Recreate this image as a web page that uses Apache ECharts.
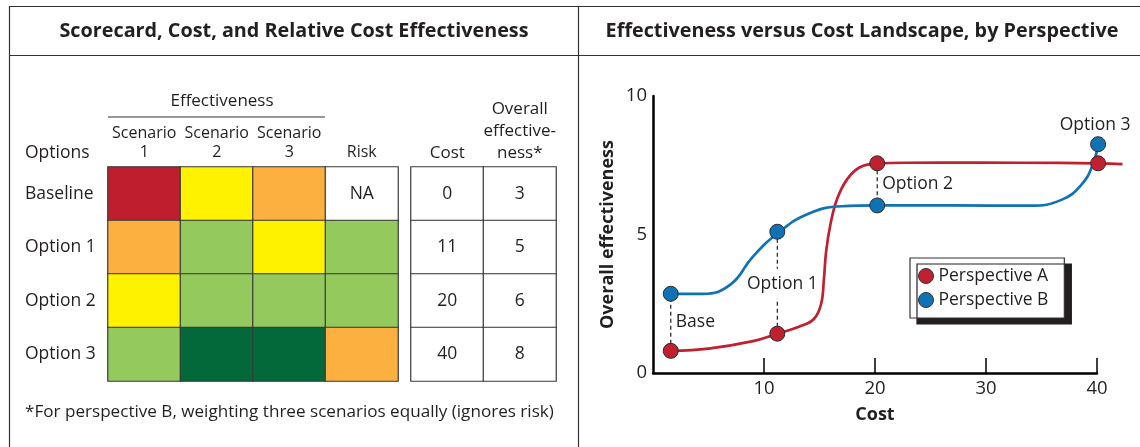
<!DOCTYPE html>
<html>
<head>
<meta charset="utf-8">
<script src="https://cdn.jsdelivr.net/npm/echarts@6/dist/echarts.min.js"></script>
<style>
  html, body { margin: 0; padding: 0; background: #fff; }
  #chart { width: 1140px; height: 447px; }
</style>
</head>
<body>
<div id="chart"></div>
<script>
// ---- left panel: scorecard ----
const optionNames = ["Baseline", "Option 1", "Option 2", "Option 3"];
const scorecardColumns = ["Scenario\n1", "Scenario\n2", "Scenario\n3", "Risk"];
// ratings: 1 red, 2 orange, 3 yellow, 4 light green, 5 dark green, null = NA
const scenario1 = [1, 2, 3, 4];
const scenario2 = [3, 4, 4, 5];
const scenario3 = [2, 3, 4, 5];
const risk = [null, 4, 4, 2];
const costColumns = ["Cost", "Overall\neffective-\nness*"];
const cost = [0, 11, 20, 40];
const overallEffectiveness = [3, 5, 6, 8];

// ---- right panel: landscape ----
const pointNames = ["Base", "Option 1", "Option 2", "Option 3"];
const pointCost = [1.6, 11.2, 20.2, 40.1];
const pointA = [0.8, 1.42, 7.57, 7.57];
const pointB = [2.86, 5.1, 6.05, 8.26];
const curveACost = [1.6, 5, 9, 11.2, 13.2, 14.5, 15.15, 15.4, 15.6, 16, 16.6, 17.5, 18.6, 20.2, 26, 33, 40.1, 42.3];
const curveAEff = [0.8, 0.88, 1.15, 1.42, 1.68, 1.95, 2.5, 3.4, 4.4, 5.4, 6.3, 7.0, 7.42, 7.57, 7.6, 7.59, 7.57, 7.54];
const curveBCost = [1.6, 4.5, 7, 9, 11.4, 14, 17, 20.2, 27, 34, 36.8, 38.6, 39.6, 40.1];
const curveBEff = [2.86, 2.86, 3.2, 4.2, 5.1, 5.75, 6.02, 6.05, 6.05, 6.04, 6.25, 6.8, 7.5, 8.26];
const axisMaxCost = 40;
const curveMaxCost = 42.3;

const ratingColors = { 1: "#BE1E2D", 2: "#FBB040", 3: "#FFF200", 4: "#94C95E", 5: "#03693A" };
const red = "#C0202F";
const blue = "#0E72B5";
const ink = "#231F20";
const font = "Open Sans";

const labelPlacement = {
  "Base": { line: true, mode: "right" },
  "Option 1": { line: true, mode: "center" },
  "Option 2": { line: true, mode: "right" },
  "Option 3": { line: false, mode: "top" },
};

const scoreData = [];
[scenario1, scenario2, scenario3, risk].forEach((col, c) => {
  col.forEach((v, r) => {
    if (v == null) {
      scoreData.push({ value: [c, r, 0], itemStyle: { color: "#fff" }, label: { show: true, formatter: "NA" } });
    } else {
      scoreData.push({ value: [c, r, v], itemStyle: { color: ratingColors[v] } });
    }
  });
});

const costData = [];
[cost, overallEffectiveness].forEach((col, c) => {
  col.forEach((v, r) => costData.push([c, r, v]));
});

const cellBorder = { borderColor: "#3a3a3a", borderWidth: 1.2 };
const cellLabel = { color: ink, fontSize: 17.5, fontFamily: font };

// plot area of the landscape; the curves run a bit past the last tick
const plotLeft = 653, plotTop = 96, plotWidth = 444, plotHeight = 277;

const chart = echarts.init(document.getElementById("chart"));

const option = {
  animation: false,
  textStyle: { fontFamily: font, color: ink },
  grid: [
    { left: 108, top: 167, width: 290, height: 214 },
    { left: 411, top: 167, width: 145, height: 214 },
    { left: plotLeft, top: plotTop, width: plotWidth, height: plotHeight },
    { left: plotLeft, top: plotTop, width: plotWidth * curveMaxCost / axisMaxCost, height: plotHeight },
  ],
  xAxis: [
    {
      gridIndex: 0, type: "category", data: scorecardColumns, position: "top",
      axisLine: { show: false }, axisTick: { show: false },
      axisLabel: { fontSize: 16, lineHeight: 19, color: ink, margin: 5, interval: 0 },
    },
    {
      gridIndex: 1, type: "category", data: costColumns, position: "top",
      axisLine: { show: false }, axisTick: { show: false },
      axisLabel: { fontSize: 17, lineHeight: 22, color: ink, margin: 3, interval: 0 },
    },
    {
      gridIndex: 2, type: "value", min: 0, max: axisMaxCost, interval: 10,
      axisLine: { lineStyle: { color: "#000", width: 2.5 } },
      axisTick: { inside: true, length: 15, lineStyle: { color: "#000", width: 1.5 } },
      axisLabel: { showMinLabel: false, fontSize: 18.5, color: ink, margin: 6 },
      splitLine: { show: false },
      name: "Cost", nameLocation: "middle", nameGap: 33,
      nameTextStyle: { fontSize: 18, fontWeight: "bold", color: ink },
    },
    { gridIndex: 3, type: "value", min: 0, max: curveMaxCost, show: false },
  ],
  yAxis: [
    {
      gridIndex: 0, type: "category", data: optionNames, inverse: true,
      axisLine: { show: false }, axisTick: { show: false },
      axisLabel: { align: "left", margin: 83, fontSize: 17.5, color: ink },
    },
    {
      gridIndex: 1, type: "category", data: optionNames, inverse: true,
      axisLine: { show: false }, axisTick: { show: false }, axisLabel: { show: false },
    },
    {
      gridIndex: 2, type: "value", min: 0, max: 10, interval: 5,
      axisLine: { show: true, lineStyle: { color: "#000", width: 2.5 } },
      axisTick: { show: false },
      axisLabel: { fontSize: 18.5, color: ink, margin: 6 },
      splitLine: { show: false },
      name: "Overall effectiveness", nameLocation: "middle", nameGap: 36,
      nameTextStyle: { fontSize: 18, fontWeight: "bold", color: ink },
    },
    { gridIndex: 3, type: "value", min: 0, max: 10, show: false },
  ],
  legend: {
    orient: "vertical", left: 910, top: 258,
    padding: [9, 16, 9, 8], itemGap: 6, itemWidth: 15, itemHeight: 15,
    backgroundColor: "#fff", borderColor: "#333", borderWidth: 1.2,
    shadowColor: "#231F20", shadowOffsetX: 7, shadowOffsetY: 6, shadowBlur: 0,
    textStyle: { fontSize: 17.5, color: ink, fontFamily: font },
    data: [
      { name: "Perspective A", icon: "circle", itemStyle: { color: red, borderColor: "#333", borderWidth: 1 } },
      { name: "Perspective B", icon: "circle", itemStyle: { color: blue, borderColor: "#333", borderWidth: 1 } },
    ],
  },
  graphic: [
    { type: "line", shape: { x1: 9, y1: 6.5, x2: 1140, y2: 6.5 }, style: { stroke: "#333", lineWidth: 1.2 } },
    { type: "line", shape: { x1: 9, y1: 55.5, x2: 1140, y2: 55.5 }, style: { stroke: "#333", lineWidth: 1.2 } },
    { type: "line", shape: { x1: 9.5, y1: 6, x2: 9.5, y2: 447 }, style: { stroke: "#333", lineWidth: 1.2 } },
    { type: "line", shape: { x1: 578.5, y1: 6, x2: 578.5, y2: 447 }, style: { stroke: "#333", lineWidth: 1.2 } },
    {
      type: "text", x: 294, y: 31,
      style: { text: "Scorecard, Cost, and Relative Cost Effectiveness", align: "center", verticalAlign: "middle", fontSize: 19.8, fontWeight: "bold", fontFamily: font, fill: ink },
    },
    {
      type: "text", x: 862, y: 31,
      style: { text: "Effectiveness versus Cost Landscape, by Perspective", align: "center", verticalAlign: "middle", fontSize: 19.8, fontWeight: "bold", fontFamily: font, fill: ink },
    },
    {
      type: "text", x: 222, y: 101,
      style: { text: "Effectiveness", align: "center", verticalAlign: "middle", fontSize: 17, fontFamily: font, fill: ink },
    },
    { type: "line", shape: { x1: 108, y1: 117, x2: 325, y2: 117 }, style: { stroke: "#333", lineWidth: 1.2 } },
    {
      type: "text", x: 25, y: 153,
      style: { text: "Options", align: "left", verticalAlign: "middle", fontSize: 17.5, fontFamily: font, fill: ink },
    },
    {
      type: "text", x: 25, y: 412,
      style: { text: "*For perspective B, weighting three scenarios equally (ignores risk)", align: "left", verticalAlign: "middle", fontSize: 17.1, fontFamily: font, fill: ink },
    },
  ],
  series: [
    {
      type: "heatmap", xAxisIndex: 0, yAxisIndex: 0, data: scoreData,
      itemStyle: cellBorder, label: Object.assign({ show: false }, cellLabel),
      emphasis: { disabled: true },
    },
    {
      type: "heatmap", xAxisIndex: 1, yAxisIndex: 1, data: costData,
      itemStyle: Object.assign({ color: "#fff" }, cellBorder),
      label: Object.assign({ show: true, formatter: (p) => p.value[2] }, cellLabel),
      emphasis: { disabled: true },
    },
    {
      name: "Perspective A", type: "scatter", xAxisIndex: 2, yAxisIndex: 2, clip: false,
      data: pointCost.map((x, i) => [x, pointA[i]]),
      symbolSize: 15, itemStyle: { color: red, opacity: 1, borderColor: "#2b2b2b", borderWidth: 1 }, z: 5,
    },
    {
      name: "Perspective B", type: "scatter", xAxisIndex: 2, yAxisIndex: 2, clip: false,
      data: pointCost.map((x, i) => [x, pointB[i]]),
      symbolSize: 15, itemStyle: { color: blue, opacity: 1, borderColor: "#2b2b2b", borderWidth: 1 }, z: 5,
    },
    {
      name: "Perspective A", type: "line", xAxisIndex: 3, yAxisIndex: 3,
      data: curveACost.map((x, i) => [x, curveAEff[i]]),
      smooth: 0.4, showSymbol: false, clip: false,
      lineStyle: { color: red, width: 2.7 }, z: 3,
    },
    {
      name: "Perspective B", type: "line", xAxisIndex: 3, yAxisIndex: 3,
      data: curveBCost.map((x, i) => [x, curveBEff[i]]),
      smooth: 0.45, showSymbol: false, clip: false,
      lineStyle: { color: blue, width: 2.7 }, z: 3,
    },
    {
      type: "custom", xAxisIndex: 2, yAxisIndex: 2, z: 4, silent: true, clip: false,
      data: pointCost.map((x, i) => [x, pointA[i], pointB[i]]),
      renderItem: (params, api) => {
        const name = pointNames[params.dataIndex];
        const place = labelPlacement[name];
        const pa = api.coord([api.value(0), api.value(1)]);
        const pb = api.coord([api.value(0), api.value(2)]);
        const children = [];
        if (place.line) {
          children.push({
            type: "line",
            shape: { x1: pa[0], y1: pa[1], x2: pb[0], y2: pb[1] },
            style: { stroke: ink, lineWidth: 1.2, lineDash: [4, 3] },
          });
        }
        const midY = (pa[1] + pb[1]) / 2;
        const txt = { text: name, fontSize: 17.5, fontFamily: font, fill: ink, verticalAlign: "middle" };
        if (place.mode === "right") {
          children.push({ type: "text", x: pa[0] + 5, y: midY, style: Object.assign(txt, { align: "left" }) });
        } else if (place.mode === "center") {
          children.push({
            type: "text", x: pa[0] + 5, y: midY + 1,
            style: Object.assign(txt, { align: "center", backgroundColor: "#fff", padding: [6, 2] }),
          });
        } else {
          children.push({ type: "text", x: pb[0] - 3, y: pb[1] - 19, style: Object.assign(txt, { align: "center" }) });
        }
        return { type: "group", children };
      },
    },
  ],
};

chart.setOption(option);
</script>
</body>
</html>
